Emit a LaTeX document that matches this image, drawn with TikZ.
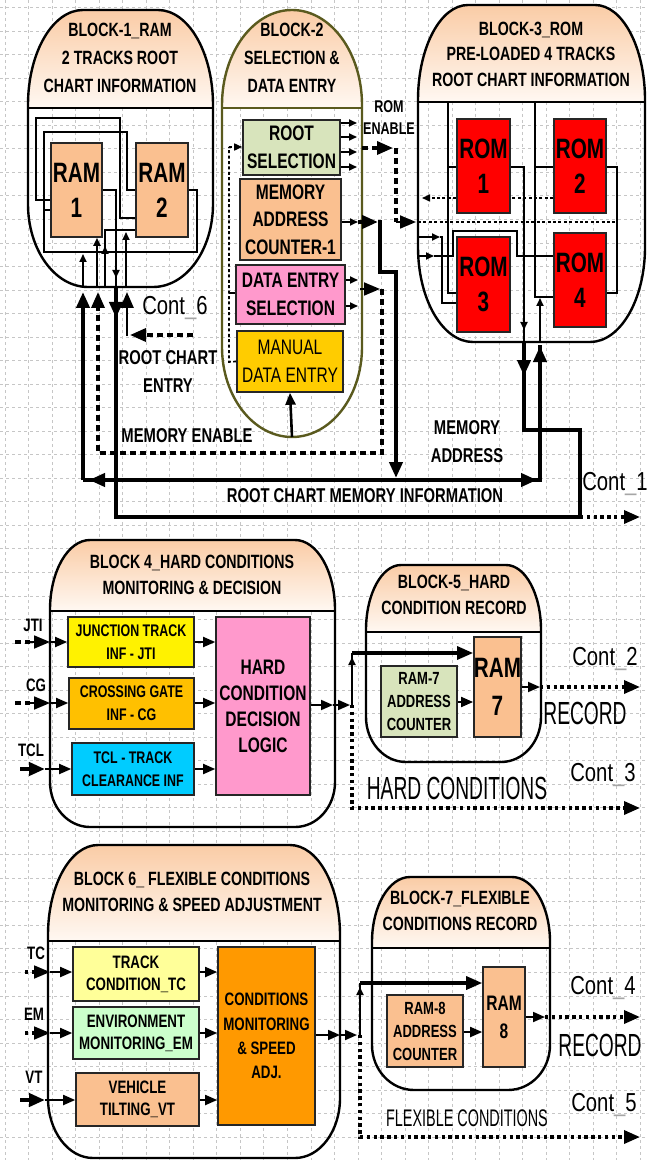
\documentclass[tikz,border=0pt]{standalone}
\usepackage{fontspec}
\usepackage{xcolor}
\usepackage{tikz}
\usetikzlibrary{arrows.meta,calc}
\newfontfamily\nsans{Liberation Sans}[FakeStretch=0.74]
\newfontfamily\xsans{Liberation Sans}[FakeStretch=0.6]
\newfontfamily\csans{Liberation Sans}[FakeStretch=0.78]
\definecolor{hdrtop}{RGB}{250,204,166}
\definecolor{hdrbot}{RGB}{255,248,242}
\definecolor{ramtan}{RGB}{250,192,144}
\definecolor{selgreen}{RGB}{216,228,188}
\definecolor{pinkbox}{RGB}{255,153,204}
\definecolor{goldbox}{RGB}{255,204,0}
\definecolor{cgbox}{RGB}{255,192,0}
\definecolor{cyanbox}{RGB}{0,204,255}
\definecolor{ltyellow}{RGB}{255,255,153}
\definecolor{ltgreen}{RGB}{204,255,204}
\definecolor{orangebox}{RGB}{255,153,0}
\definecolor{olivedark}{RGB}{90,90,30}
\newcommand\fTitle{\nsans\bfseries\fontsize{9.6}{14}\selectfont}
\newcommand\fTitleB{\nsans\bfseries\fontsize{9.6}{12.8}\selectfont}
\newcommand\fMid{\nsans\bfseries\fontsize{10.5}{13.75}\selectfont}
\newcommand\fMidR{\nsans\fontsize{10.5}{13.75}\selectfont}
\newcommand\fRam{\nsans\bfseries\fontsize{14}{17.5}\selectfont}
\newcommand\fSmall{\nsans\bfseries\fontsize{8.4}{11.5}\selectfont}
\newcommand\fSix{\nsans\bfseries\fontsize{9}{11}\selectfont}
\newcommand\fHcdl{\nsans\bfseries\fontsize{10.5}{13}\selectfont}
\newcommand\fCms{\nsans\bfseries\fontsize{9}{12.2}\selectfont}
\newcommand\fRac{\nsans\bfseries\fontsize{8.8}{11.5}\selectfont}
\newcommand\fRamS{\nsans\bfseries\fontsize{14}{19}\selectfont}
\newcommand\fRamT{\nsans\bfseries\fontsize{10.5}{14}\selectfont}
\newcommand\fCont{\csans\fontsize{13}{15}\selectfont}
\newcommand\fBig{\xsans\fontsize{16}{18}\selectfont}
\newcommand\fFlex{\xsans\fontsize{12}{14}\selectfont}
\newcommand\fLab{\nsans\bfseries\fontsize{10}{14}\selectfont}
\newcommand\fRomEn{\nsans\bfseries\fontsize{8.5}{11}\selectfont}
\newcommand\fIn{\nsans\bfseries\fontsize{9}{11}\selectfont}
% block outline: x1 y1 x2 y2, top radii, bottom radii
\newcommand{\blockpath}[8]{(#1,#4-#8) -- (#1,#2+#6)
  arc[start angle=180,end angle=270,x radius=#5,y radius=#6] -- (#3-#5,#2)
  arc[start angle=270,end angle=360,x radius=#5,y radius=#6] -- (#3,#4-#8)
  arc[start angle=0,end angle=90,x radius=#7,y radius=#8] -- (#1+#7,#4)
  arc[start angle=90,end angle=180,x radius=#7,y radius=#8] -- cycle}
\newcommand{\drawblock}[9]{%
  \begin{scope}
    \clip \blockpath{#1}{#2}{#3}{#4}{#6}{#7}{#8}{#9};
    \shade[top color=hdrtop,bottom color=hdrbot] (#1,#2) rectangle (#3,#5);
  \end{scope}
  \draw[blk] \blockpath{#1}{#2}{#3}{#4}{#6}{#7}{#8}{#9};
  \draw[blk] (#1,#5) -- (#3,#5);}

\begin{document}
\begin{tikzpicture}[x=0.5pt,y=-0.5pt]
\tikzset{gridln/.style={gray!45,line width=0.35pt,dash pattern=on 1.5pt off 1.5pt}}
\tikzset{blk/.style={draw=\blkcol,line width=1.2pt}}
\tikzset{box/.style={draw=black!85,line width=0.8pt,inner sep=0pt,align=center}}
\tikzset{wire/.style={line width=0.9pt}}
\tikzset{bus/.style={line width=2pt}}
\tikzset{dsh/.style={line width=1.7pt,dash pattern=on 3pt off 2pt}}
\tikzset{dshthin/.style={line width=0.8pt,dash pattern=on 1.5pt off 1.2pt}}
\tikzset{dots/.style={line width=1.7pt,dash pattern=on 1.7pt off 1.7pt}}
\tikzset{tipL/.style={-{Triangle[length=8pt,width=6.5pt]}}}
\tikzset{tipM/.style={-{Triangle[length=6pt,width=5pt]}}}
\tikzset{tipS/.style={-{Triangle[length=4pt,width=3.5pt]}}}
\useasboundingbox (0,0) rectangle (648,1160);
% grid
\foreach \k in {0,...,49} \draw[gridln] (0,7.6+23.53*\k) -- (648,7.6+23.53*\k);
\foreach \k in {0,...,27} \draw[gridln] (5+23.53*\k,0) -- (5+23.53*\k,1160);
% blocks
\def\blkcol{black}
\drawblock{28}{10}{213}{287}{108}{55}{95}{60}{83}
\def\blkcol{olivedark}
\drawblock{222}{10}{362}{437}{108}{70}{95}{70}{90}
\def\blkcol{black}
\drawblock{418}{5}{645}{342}{102}{50}{95}{55}{95}
\drawblock{50}{540}{335}{827}{611}{40}{70}{40}{45}
\drawblock{366}{565}{541}{762}{632}{35}{65}{40}{45}
\drawblock{48}{845}{340}{1158}{941}{50}{90}{45}{60}
\drawblock{372}{877}{550}{1090}{948}{38}{65}{42}{45}
% titles
\node[font=\fTitle,align=center] (t1) at (120,58) {BLOCK-1\_RAM\\2 TRACKS ROOT\\CHART INFORMATION};
\node[font=\fTitle,align=center] (t2) at (292,58) {BLOCK-2\\SELECTION \&\\DATA ENTRY};
\node[font=\fTitleB,align=center] (t3) at (531,54) {BLOCK-3\_ROM\\PRE-LOADED 4 TRACKS\\ROOT CHART INFORMATION};
\node[font=\fTitleB,align=center] (t4) at (192,575) {BLOCK 4\_HARD CONDITIONS\\MONITORING \& DECISION};
\node[font=\fTitleB,align=center] (t5) at (454,595) {BLOCK-5\_HARD\\CONDITION RECORD};
\node[font=\fTitleB,align=center] (t6) at (192,892) {BLOCK 6\_ FLEXIBLE CONDITIONS\\MONITORING \& SPEED ADJUSTMENT};
\node[font=\fTitleB,align=center] (t7) at (460,911) {BLOCK-7\_FLEXIBLE\\CONDITIONS RECORD};
% boxes
\foreach \nm/\xa/\ya/\xb/\yb/\fc/\fs/\txt in {
  ram1/51/143/102/237/ramtan/\fRam/{RAM\\1},
  ram2/136/143/188/237/ramtan/\fRam/{RAM\\2},
  rsel/243/120/340/175/selgreen/\fMid/{ROOT\\SELECTION},
  mac/240/179/341/260/ramtan/\fMid/{MEMORY\\ADDRESS\\COUNTER-1},
  desel/236/265/345/324/pinkbox/\fMid/{DATA ENTRY\\SELECTION},
  mde/237/331/343/392/goldbox/\fMidR/{MANUAL\\DATA ENTRY},
  rom1/457/119/510/213/red/\fRam/{ROM\\1},
  rom2/554/119/606/213/red/\fRam/{ROM\\2},
  rom3/457/237/510/332/red/\fRam/{ROM\\3},
  rom4/554/233/606/327/red/\fRam/{ROM\\4},
  jti/68/617/194/667/yellow/\fSmall/{JUNCTION TRACK\\INF - JTI},
  cg/69/678/194/729/cgbox/\fSmall/{CROSSING GATE\\INF - CG},
  tcl/72/743/194/795/cyanbox/\fSmall/{TCL - TRACK\\CLEARANCE INF},
  hcdl/216/617/310/795/pinkbox/\fHcdl/{HARD\\CONDITION\\DECISION\\LOGIC},
  rac7/381/666/457/737/selgreen/\fRac/{RAM-7\\ADDRESS\\COUNTER},
  ram7/476/637/519/737/ramtan/\fRamS/{RAM\\7},
  tc/73/947/199/1001/ltyellow/\fSix/{TRACK\\CONDITION\_TC},
  em/73/1007/199/1059/ltgreen/\fSix/{ENVIRONMENT\\MONITORING\_EM},
  vt/76/1073/199/1126/ramtan/\fSix/{VEHICLE\\TILTING\_VT},
  cmsa/218/947/315/1125/orangebox/\fCms/{CONDITIONS\\MONITORING\\\& SPEED\\ADJ.},
  rac8/387/995/463/1067/ramtan/\fRac/{RAM-8\\ADDRESS\\COUNTER},
  ram8/483/967/525/1067/ramtan/\fRamT/{RAM\\8}}
  \node[box,fill=\fc,font=\fs,minimum width={(\xb-\xa)*0.5pt},minimum height={(\yb-\ya)*0.5pt}]
    (\nm) at ({(\xa+\xb)/2},{(\ya+\yb)/2}) {\txt};
% block 1 wiring
\draw[wire] (ram1.west |- 0,200) -- (36,200) -- (36,118) -- (120,118) -- (120,218) -- (ram2.west |- 0,218);
\draw[wire] (ram2.west |- 0,190) -- (127,190) -- (127,132) -- (44,132) -- (44,252) -- (197,252) -- (197,190) -- (ram2.east |- 0,190);
\draw[wire] (44,210) -- (ram1.west |- 0,210);
\draw[wire] (ram1.east |- 0,190) -- (116,190) -- (116,287);
\draw[wire] (105,287) -- (105,230) -- (ram2.west |- 0,230);
\draw[wire,tipS] (105,287) -- (105,246);
\draw[wire,tipS] (97,287) -- (ram1.south -| 97,0);
\draw[wire,tipS] (83,287) -- (83,254);
\draw[wire,tipS] (126,287) -- (126,232);
\draw[wire,tipS] (116,250) -- (116,278);
% root chart entry / memory enable into block 1
\draw[bus,tipL] (83,480) -- (83,292);
\draw[dsh,tipL] (382,289) -- (382,453) -- (98,453) -- (98,292);
\draw[dsh,tipL] (193,335) -- (130,335);
\draw[line width=1.4pt,tipL] (127,336) -- (127,292);
% root chart memory information
\draw[bus] (116,287) -- (116,517) -- (580,517) -- (580,430) -- (524,430) -- (524,342);
\draw[bus,tipL] (116,287) -- (116,318);
\draw[bus,tipL] (524,342) -- (524,376);
\draw[dots,tipL] (580,517) -- (640,517);
% memory address bus
\draw[bus] (83,480) -- (540,480) -- (540,345);
\draw[bus,tipL] (120,480) -- (89,480);
\draw[bus,tipL] (500,480) -- (537,480);
\draw[bus,tipL] (540,400) -- (540,346);
\draw[wire,tipS] (540,342) -- (540,298);
\draw[wire,tipS] (mac.east |- 0,222) -- (358,222);
\draw[bus,tipL] (358,222) -- (378,222);
\draw[bus,tipL] (378,222) -- (380,222) -- (380,272) -- (396,272) -- (396,478);
% block 2 wiring
\foreach \y in {123,137,152,167} \draw[wire,tipS] (rsel.east |- 0,\y) -- (357,\y);
\foreach \y in {280,306} \draw[wire,tipS] (desel.east |- 0,\y) -- (358,\y);
\draw[wire,tipL] (360,289) -- (380,289);
\draw[line width=1.3pt,tipM] (292,437) -- (mde.south);
\draw[dshthin] (mde.west) -- (229,362) -- (229,147);
\draw[dshthin,tipS] (229,147) -- (rsel.west |- 0,147);
\draw[wire] (229,293) -- (desel.west |- 0,293);
% rom enable
\draw[dsh,tipL] (362,148) -- (393,148);
\draw[dsh] (396,148) -- (396,222);
\draw[wire,tipL] (396,222) -- (416,222);
\draw[dshthin] (418,222) -- (617,222);
% block 3 wiring
\draw[wire] (448,102) -- (448,293) -- (rom3.west |- 0,293);
\draw[wire] (535,102) -- (535,297) -- (rom4.west |- 0,297);
\draw[wire] (rom1.west |- 0,167) -- (448,167);
\draw[wire] (rom2.west |- 0,167) -- (535,167);
\draw[wire] (rom1.east |- 0,167) -- (524,167) -- (524,342);
\draw[wire,tipS] (524,300) -- (524,330);
\draw[wire] (rom2.east |- 0,167) -- (617,167) -- (617,293) -- (rom4.east |- 0,293);
\draw[dshthin] (rom2.west |- 0,198) -- (rom1.east |- 0,198);
\draw[dshthin,tipS] (rom1.west |- 0,198) -- (422,198);
\draw[wire,tipS] (418,237) -- (440,237);
\draw[wire] (440,237) -- (442,237) -- (442,303) -- (rom3.west |- 0,303);
\draw[wire,tipS] (418,256) -- (434,256);
\draw[wire] (434,256) -- (453,256) -- (453,231) -- (517,231) -- (517,256) -- (rom4.west |- 0,256);
% block 4 inputs and decision
\foreach \nm/\y in {jti/642,cg/703} {
  \draw[dsh] (15,\y) -- (30,\y);
  \draw[wire,tipL] (30,\y) -- (50,\y);
  \draw[wire,tipM] (50,\y) -- (\nm.west |- 0,\y);
}
\draw[bus,tipL] (20,769) -- (45,769);
\draw[wire,tipM] (45,769) -- (tcl.west |- 0,769);
\foreach \nm/\y in {jti/642,cg/703,tcl/769} \draw[wire,tipM] (\nm.east |- 0,\y) -- (hcdl.west |- 0,\y);
\draw[wire,tipM] (hcdl.east |- 0,705) -- (333,705);
\draw[wire,tipM] (333,705) -- (350,705);
\draw[line width=1.4pt] (352,705) -- (352,653);
\draw[wire,tipS] (352,690) -- (352,657);
\draw[line width=1.6pt,tipL] (352,653) -- (ram7.west |- 0,653);
\draw[dots,tipL] (352,705) -- (352,808) -- (640,808);
\draw[wire,tipM] (rac7.east |- 0,702) -- (ram7.west |- 0,702);
\draw[wire,tipM] (ram7.east |- 0,687) -- (540,687);
\draw[dots,tipL] (540,687) -- (640,687);
% block 6 inputs and speed adjustment
\foreach \nm/\y in {tc/972,em/1033} {
  \draw[dots] (25,\y) -- (35,\y);
  \draw[wire,tipL] (35,\y) -- (50,\y);
  \draw[wire,tipM] (50,\y) -- (\nm.west |- 0,\y);
}
\draw[bus,tipL] (20,1100) -- (45,1100);
\draw[wire,tipM] (45,1100) -- (vt.west |- 0,1100);
\foreach \nm/\y in {tc/972,em/1033,vt/1100} \draw[wire,tipM] (\nm.east |- 0,\y) -- (cmsa.west |- 0,\y);
\draw[wire,tipM] (cmsa.east |- 0,1035) -- (340,1035);
\draw[wire,tipM] (340,1035) -- (357,1035);
\draw[line width=1.4pt] (360,1035) -- (360,983);
\draw[wire,tipS] (360,1015) -- (360,987);
\draw[line width=1.6pt,tipL] (360,983) -- (ram8.west |- 0,983);
\draw[dots,tipL] (360,1035) -- (360,1137) -- (640,1137);
\draw[wire,tipM] (rac8.east |- 0,1032) -- (ram8.west |- 0,1032);
\draw[wire,tipM] (ram8.east |- 0,1017) -- (545,1017);
\draw[dots,tipL] (545,1017) -- (640,1017);
% labels
\node[font=\fCont] (c6) at (175,308) {Cont{\color{gray!70}\_}6};
\node[font=\fLab,align=center] (rce) at (168,372) {ROOT CHART\\ENTRY};
\node[font=\fLab] (men) at (187,436) {MEMORY ENABLE};
\node[font=\fLab,align=center] (mad) at (467,442) {MEMORY\\ADDRESS};
\node[font=\fLab] (rcmi) at (365,496) {ROOT CHART MEMORY INFORMATION};
\node[font=\fCont] (c1) at (615,484) {Cont{\color{gray!70}\_}1};
\node[font=\fRomEn,align=center] (ren) at (389,118) {ROM\\ENABLE};
\node[font=\fIn] (ljti) at (33,625) {JTI};
\node[font=\fIn] (lcg) at (36,685) {CG};
\node[font=\fIn] (ltcl) at (31,750) {TCL};
\node[font=\fCont] (c2) at (605,659) {Cont{\color{gray!70}\_}2};
\node[font=\fBig] (rec1) at (585,713) {RECORD};
\node[font=\fCont] (c3) at (603,775) {Cont{\color{gray!70}\_}3};
\node[font=\fBig] (hc) at (457,788) {HARD CONDITIONS};
\node[font=\fIn] (ltc) at (36,953) {TC};
\node[font=\fIn] (lem) at (34,1014) {EM};
\node[font=\fIn] (lvt) at (34,1077) {VT};
\node[font=\fCont] (c4) at (603,988) {Cont{\color{gray!70}\_}4};
\node[font=\fBig] (rec2) at (600,1045) {RECORD};
\node[font=\fCont] (c5) at (604,1105) {Cont{\color{gray!70}\_}5};
\node[font=\fFlex] (fc) at (467,1118) {FLEXIBLE CONDITIONS};
\end{tikzpicture}
\end{document}
